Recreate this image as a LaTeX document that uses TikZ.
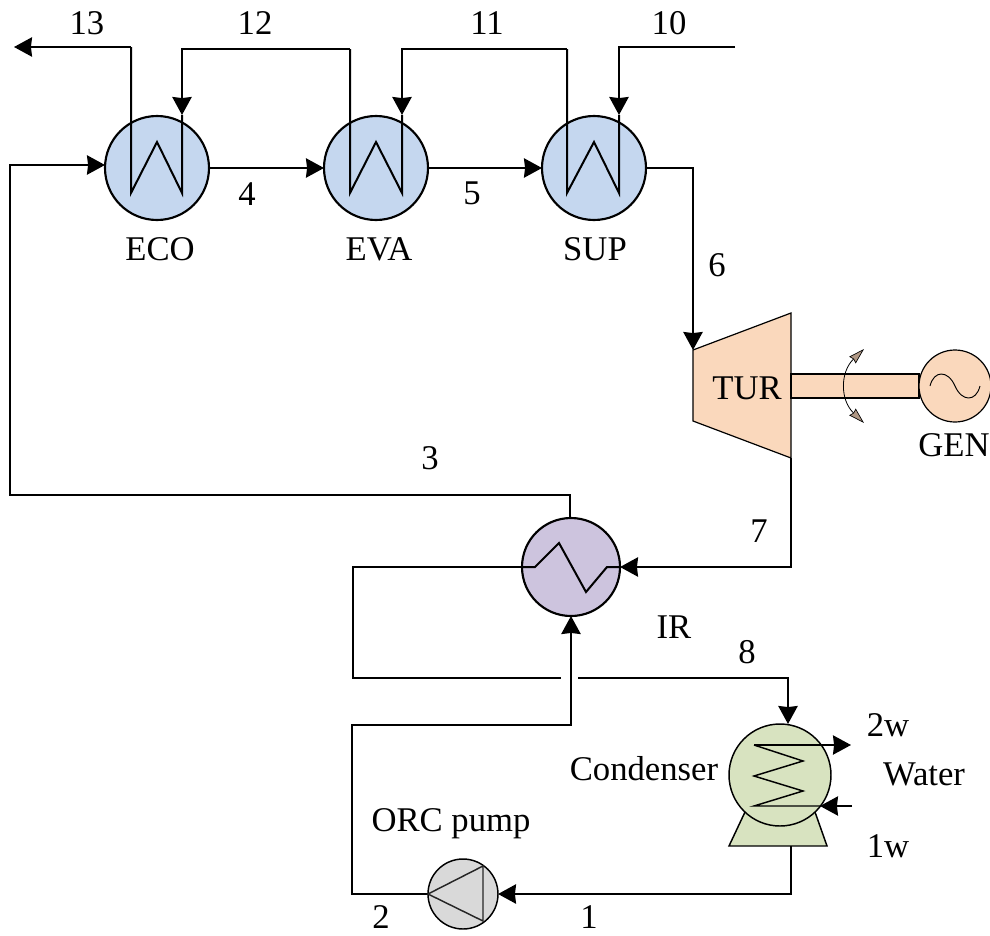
\documentclass[tikz,border=0pt]{standalone}
\usepackage{fontspec}
\setmainfont{Liberation Serif}
\usetikzlibrary{arrows.meta}
\definecolor{hxblue}{HTML}{C5D7EF}
\definecolor{turb}{HTML}{FAD8BC}
\definecolor{irp}{HTML}{CDC4DE}
\definecolor{cond}{HTML}{D8E3C0}
\definecolor{pumpg}{HTML}{D9D9D9}
\tikzset{
  px/.style={circle,draw=black,line width=1.6pt,inner sep=0pt,outer sep=0pt,minimum size=#1*1.5pt},
  pipe/.style={line width=1.5pt,line join=miter},
  flow/.style={pipe,-{Stealth[length=13.5pt,width=14.5pt,inset=0.8pt]}},
  coil/.style={line width=1.5pt,line join=miter},
  thinl/.style={line width=1.1pt},
  lab/.style={font=\fontsize{26}{30}\selectfont,inner sep=0pt,text=black},
  rot/.style={line width=.6pt,{Stealth[length=12pt,width=7pt,inset=1pt,fill=turb!70!black,color=black,line width=.5pt]}-{Stealth[length=12pt,width=7pt,inset=1pt,fill=turb!70!black,color=black,line width=.5pt]}}
}
\begin{document}
\begin{tikzpicture}[x=0.75pt,y=-0.75pt]
\useasboundingbox (0,0) rectangle (990,936);
% equipment
\node[px=52,fill=hxblue] (eco) at (157,168) {};
\node[px=52,fill=hxblue] (eva) at (376,168) {};
\node[px=52,fill=hxblue] (sup) at (594,168) {};
\node[px=49,fill=irp] (ir) at (571,567) {};
\draw[thinl,fill=cond] (745,812) -- (729,846) -- (827,846) -- (815,812) -- cycle;
\node[px=51,fill=cond,line width=1.1pt] (con) at (780,775) {};
\node[px=35,fill=pumpg,line width=1.1pt] (pump) at (463,894) {};
\fill[turb] (693,350) -- (791,313) -- (791,458) -- (693,421) -- cycle;
\draw[line width=.9pt] (693,350) -- (791,313) -- (791,458) -- (693,421) -- cycle;
\node[draw=black,line width=1.3pt,fill=turb,minimum width=96pt,minimum height=18pt,inner sep=0pt,outer sep=0pt] (shaft) at (855,386) {};
\node[px=36,fill=turb,line width=.9pt] (gen) at (955,386) {};
% coordinates
\coordinate (a13) at (14,47);
\coordinate (c13) at (131,47);
\coordinate (e1) at (131,193);
\coordinate (e2) at (157,142);
\coordinate (e3) at (182,193);
\coordinate (e4) at (182,115);
\coordinate (c12a) at (182,49);
\coordinate (c12b) at (350,49);
\coordinate (v1) at (350,193);
\coordinate (v2) at (376,142);
\coordinate (v3) at (402,193);
\coordinate (v4) at (402,115);
\coordinate (c11a) at (402,49);
\coordinate (c11b) at (567,49);
\coordinate (s1) at (567,193);
\coordinate (s2) at (594,142);
\coordinate (s3) at (619,193);
\coordinate (s4) at (619,115);
\coordinate (c10a) at (619,47);
\coordinate (c10b) at (735,47);
\coordinate (in3) at (105,165);
\coordinate (l1) at (10,165);
\coordinate (l2) at (10,495);
\coordinate (l3) at (570,495);
\coordinate (t1) at (693,168);
\coordinate (tin) at (693,350);
\coordinate (tout) at (791,458);
\coordinate (t7) at (791,567);
\coordinate (b1) at (353,567);
\coordinate (b2) at (353,678);
\coordinate (b3) at (561,678);
\coordinate (b4) at (578,678);
\coordinate (b5) at (788,678);
\coordinate (cb) at (791,846);
\coordinate (cc) at (791,894);
\coordinate (p1) at (352,894);
\coordinate (p2) at (352,725);
\coordinate (p3) at (571,725);
% exchanger coils
\draw[coil] (c13) -- (e1) -- (e2) -- (e3) -- (e4);
\draw[coil] (c12b) -- (v1) -- (v2) -- (v3) -- (v4);
\draw[coil] (c11b) -- (s1) -- (s2) -- (s3) -- (s4);
% flows
\draw[flow] (c13) -- (a13);
\draw[flow] (c12b) -- (c12a) -- (e4);
\draw[flow] (c11b) -- (c11a) -- (v4);
\draw[flow] (c10b) -- (c10a) -- (s4);
\draw[flow] (ir.north -| l3) -- (l3) -- (l2) -- (l1) -- (in3);
\draw[flow] (eco.east) -- (eva.west);
\draw[flow] (eva.east) -- (sup.west);
\draw[flow] (sup.east) -- (t1) -- (tin);
\draw[flow] (tout) -- (t7) -- (ir.east);
\draw[pipe] (ir.west) -- (b1) -- (b2) -- (b3);
\draw[flow] (b4) -- (b5) -- (con.north -| b5);
\draw[flow] (cb) -- (cc) -- (pump.east);
\draw[flow] (pump.west) -- (p1) -- (p2) -- (p3) -- (ir.south);
% regenerator coil
\draw[coil] (ir.west) -- (535,567) -- (559,543) -- (586,592) -- (607,567) -- (ir.east);
% condenser coil
\coordinate (k1) at (754,745);
\coordinate (k2) at (754,806);
\coordinate (kout) at (851,745);
\coordinate (kin) at (852,806);
\coordinate (ktip) at (820,806);
\draw[thinl] (k1) -- (803,761) -- (754,776) -- (803,791) -- (k2) -- (ktip);
\draw[thinl,-{Stealth[length=13.5pt,width=14.5pt,inset=0.8pt]}] (k1) -- (kout);
\draw[thinl,-{Stealth[length=13.5pt,width=14.5pt,inset=0.8pt]}] (kin) -- (ktip);
% pump triangle
\draw[thinl,line join=miter,draw=black!85] (pump.west) -- (483,866) -- (483,921) -- cycle;
% generator sine
\draw[line width=.7pt] (930,386) .. controls (934,370) and (948,370) .. (955,386) .. controls (962,402) and (976,402) .. (980,386);
% rotation arrow
\coordinate (ra) at (864,349);
\coordinate (rb) at (864,423);
\draw[rot] (ra) .. controls (840,372) and (840,400) .. (rb);
% labels
\node[lab] (n13) at (87,23) {13};
\node[lab] (n12) at (255,23) {12};
\node[lab] (n11) at (487,23) {11};
\node[lab] (n10) at (669,23) {10};
\node[lab] (n4) at (247,194) {4};
\node[lab] (n5) at (472,193) {5};
\node[lab] (neco) at (160,249) {ECO};
\node[lab] (neva) at (379,249) {EVA};
\node[lab] (nsup) at (595,249) {SUP};
\node[lab] (n6) at (717,265) {6};
\node[lab] (ntur) at (747,388) {TUR};
\node[lab] (ngen) at (954,445) {GEN};
\node[lab] (n3) at (430,458) {3};
\node[lab] (n7) at (759,531) {7};
\node[lab] (nir) at (674,627) {IR};
\node[lab] (n8) at (747,652) {8};
\node[lab] (n2w) at (888,725) {2w};
\node[lab] (nwater) at (924,774) {Water};
\node[lab] (ncond) at (644,769) {Condenser};
\node[lab] (n1w) at (888,846) {1w};
\node[lab] (norc) at (451,824) {ORC pump};
\node[lab] (n2) at (381,917) {2};
\node[lab] (n1) at (589,917) {1};
\end{tikzpicture}
\end{document}
